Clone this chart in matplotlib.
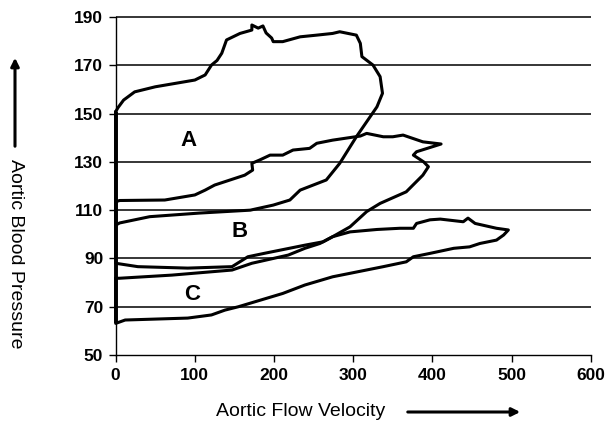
import matplotlib.pyplot as plt

# curva A (laco de cima)
a_flow = [0, 3, 10, 24, 50, 100, 113, 121, 128, 134, 140, 157, 172, 172, 180, 186, 190, 197,
          199, 211, 233, 254, 274, 283, 304, 309, 311, 325, 334, 337, 330, 304, 283, 266,
          233, 220, 199, 170, 106, 43, 5, 0, 0]
a_press = [150.8, 152.5, 155.6, 159, 161.1, 163.9, 166, 170.1, 172, 175, 180.5, 183.2, 184.6,
           186.7, 185.4, 186.3, 183.4, 181.3, 179.8, 179.8, 181.8, 182.5, 183.2, 183.9, 182.5,
           179.1, 173.6, 170.1, 165.3, 158.4, 152.8, 140.4, 129.4, 122.5, 118.3, 114.2, 112.1,
           110, 108.8, 107.3, 104.7, 103.8, 150.8]

# curva B
b_flow = [0, 5, 62, 100, 113, 125, 163, 173, 172, 182, 195, 211, 224, 245, 254, 274, 309,
          317, 338, 350, 363, 388, 411, 380, 376, 389, 395, 388, 367, 334, 317, 296, 274,
          262, 239, 189, 167, 147, 91, 28, 0, 0]
b_press = [113.5, 114, 114.2, 116.3, 118.3, 120.4, 124.5, 126.6, 129.4, 130.8, 132.8, 132.8,
           134.9, 135.6, 137.7, 139, 140.7, 141.8, 140.4, 140.4, 141.1, 138.3, 137.4, 134.2,
           132.8, 130, 128, 124.5, 117.6, 112.8, 109.4, 103.1, 99, 96.9, 95.5, 92.2, 90.7,
           86.6, 86, 86.6, 88, 113.5]

# curva C (laco de baixo)
c_flow = [0, 5, 71, 147, 172, 218, 239, 258, 274, 296, 330, 359, 376, 380, 397, 410, 439,
          445, 454, 481, 496, 490, 481, 460, 447, 427, 397, 376, 367, 338, 274, 239, 211,
          155, 138, 121, 91, 12, 0, 0]
c_press = [81.8, 81.8, 83.1, 85.2, 88, 91.4, 94.2, 96.2, 99, 101, 102, 102.5, 102.5, 104.5,
           106, 106.3, 105.2, 106.7, 104.5, 102.5, 101.8, 99.7, 97.6, 96.2, 94.8, 94.2, 92.1,
           90.7, 88.6, 86.6, 82.4, 79, 75.5, 70, 68.6, 66.6, 65.3, 64.5, 63.1, 81.8]

x_ticks = [0, 100, 200, 300, 400, 500, 600]
y_ticks = [50, 70, 90, 110, 130, 150, 170, 190]
grid_y = [70, 90, 110, 130, 150, 170, 190]

plt.rcParams['font.family'] = ['Liberation Sans', 'DejaVu Sans']

fig = plt.figure(figsize=(6.15, 4.32), dpi=100)
ax = fig.add_axes([0.1881, 0.1782, 0.7724, 0.7824])

# linhas horizontais da grade
ax.hlines(grid_y, 0, 600, colors='black', linewidth=1.1, clip_on=False, zorder=1)

for fx, py in [(a_flow, a_press), (b_flow, b_press), (c_flow, c_press)]:
    ax.plot(fx, py, color='black', linewidth=2.2, solid_joinstyle='round',
            solid_capstyle='round', clip_on=False, zorder=3)

# trecho vertical grosso em fluxo zero (diastole)
ax.vlines(1, min(c_press), a_press[0], colors='black', linewidth=2.8, clip_on=False, zorder=3)

ax.text(92, 139, 'A', fontsize=16, fontweight='bold', ha='center', va='center')
ax.text(156, 101, 'B', fontsize=16, fontweight='bold', ha='center', va='center')
ax.text(96, 75, 'C', fontsize=16, fontweight='bold', ha='center', va='center')

ax.set_xlim(0, 600)
ax.set_ylim(50, 190)
ax.set_xticks(x_ticks)
ax.set_yticks(y_ticks)
for lab in ax.get_xticklabels() + ax.get_yticklabels():
    lab.set_fontweight('bold')
ax.tick_params(direction='out', length=5, width=1, labelsize=12.5, pad=4)
ax.spines['top'].set_visible(False)
ax.spines['right'].set_visible(False)
ax.spines['left'].set_linewidth(1)
ax.spines['bottom'].set_linewidth(1)

# titulos dos eixos com setas
fig.text(301 / 615, 1 - 412 / 432, 'Aortic Flow Velocity', fontsize=14, ha='center', va='center')
fig.text(15 / 615, 1 - 254 / 432, 'Aortic Blood Pressure', fontsize=14, rotation=-90,
         ha='center', va='center')
ax.annotate('', xy=(523 / 615, 1 - 412 / 432), xytext=(405 / 615, 1 - 412 / 432),
            xycoords='figure fraction',
            arrowprops=dict(arrowstyle='-|>', color='black', lw=2.2, mutation_scale=12))
ax.annotate('', xy=(15 / 615, 1 - 55 / 432), xytext=(15 / 615, 1 - 149 / 432),
            xycoords='figure fraction',
            arrowprops=dict(arrowstyle='-|>', color='black', lw=2.2, mutation_scale=12))

fig.savefig('out.png', dpi=100)
